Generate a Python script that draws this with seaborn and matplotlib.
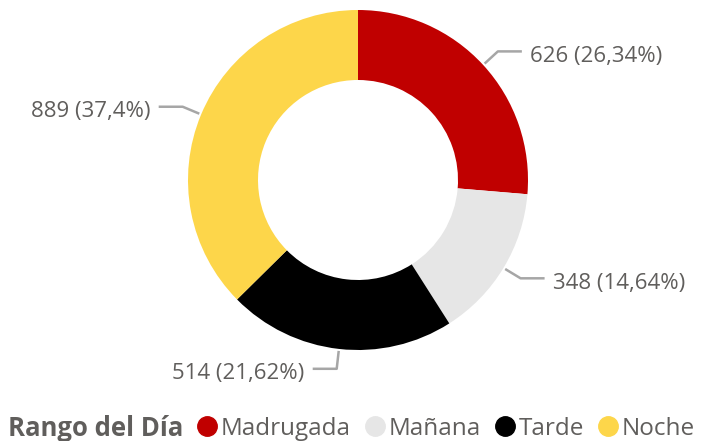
import numpy as np
import matplotlib
matplotlib.use("Agg")
import matplotlib.pyplot as plt
from matplotlib.lines import Line2D
import seaborn as sns

categories = ["Madrugada", "Mañana", "Tarde", "Noche"]
counts = [626, 348, 514, 889]
colors = ["#C00000", "#E6E6E6", "#000000", "#FDD64A"]
legend_title = "Rango del Día"

sns.set_theme(style="white")
plt.rcParams["font.family"] = ["Open Sans", "DejaVu Sans"]

TEXT = "#605E5C"
LINE = "#A6A6A6"

fig = plt.figure(figsize=(7.05, 4.41), dpi=100)
ax = fig.add_axes([0, 0, 1, 1])

cx, cy, r = 358, 261, 170
wedges, _ = ax.pie(counts, colors=colors, startangle=90, counterclock=False,
                   center=(cx, cy), radius=r,
                   wedgeprops=dict(width=70, linewidth=0))
ax.set_xlim(0, 705)
ax.set_ylim(0, 441)
ax.set_aspect("equal")
ax.axis("off")

total = sum(counts)
for w, n in zip(wedges, counts):
    pct = f"{100 * n / total:.2f}".rstrip("0").rstrip(".").replace(".", ",")
    theta = np.deg2rad((w.theta1 + w.theta2) / 2)
    d = np.array([np.cos(theta), np.sin(theta)])
    p0 = np.array([cx, cy]) + (r + 2) * d
    p1 = np.array([cx, cy]) + (r + 20) * d
    side = 1 if d[0] >= 0 else -1
    p2 = p1 + np.array([side * 24, 0])
    ax.plot([p0[0], p1[0], p2[0]], [p0[1], p1[1], p2[1]], color=LINE, lw=1.8,
            solid_capstyle="butt")
    ax.text(p2[0] + side * 8, p2[1] - 5, f"{n} ({pct}%)", ha="left" if side > 0 else "right",
            va="center", fontsize=16, color=TEXT)

fig.text(8 / 705, 12 / 441, legend_title, fontsize=18.5, fontweight="bold",
         color=TEXT, va="center", ha="left")
handles = [Line2D([], [], marker="o", ls="none", markersize=14, color=c) for c in colors]
fig.legend(handles, categories, loc="center left", bbox_to_anchor=(194 / 705, 12 / 441),
           ncol=4, frameon=False, fontsize=17.5, labelcolor=TEXT,
           handletextpad=0.0, columnspacing=0.45, handlelength=1.1, borderpad=0,
           borderaxespad=0)

fig.savefig("out.png", dpi=100)
